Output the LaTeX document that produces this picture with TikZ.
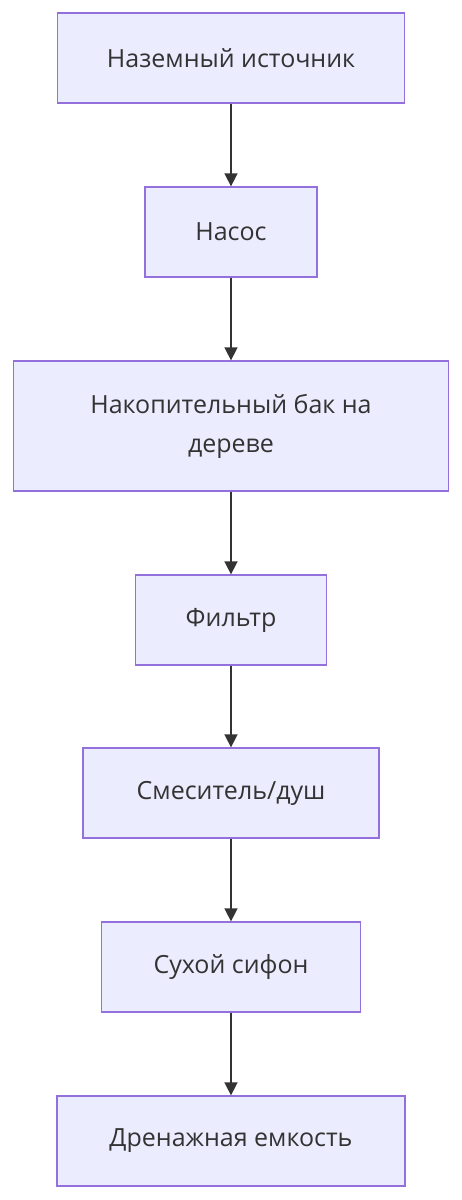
\documentclass[tikz,border=0pt]{standalone}
\usepackage{fontspec}
\setmainfont{Open Sans}
\definecolor{flowfill}{HTML}{ECECFF}
\definecolor{flowline}{HTML}{9370DB}
\definecolor{flowtext}{HTML}{333333}
\usetikzlibrary{arrows.meta,positioning}
\tikzset{
  stage/.style={rectangle,draw=flowline,fill=flowfill,line width=1.3pt,
                text=flowtext,minimum height=90pt,minimum width=#1,
                font=\fontsize{25}{39}\selectfont,align=center},
  stage/.default=200pt,
  flow/.style={-{Triangle[length=13pt,width=13pt]},line width=1.6pt,flowtext},
}
\begin{document}
\begin{tikzpicture}[x=1pt,y=-1pt]
    \useasboundingbox (0,0) rectangle (462,1200);
    \node[stage=347pt] (src) at (231,58) {Наземный источник};
    \node[stage=172pt] (pump) at (231,232) {Насос};
    \node[stage=435pt,minimum height=130pt] (tank) at (231,426) {Накопительный бак на\\дереве};
    \node[stage=191pt] (filt) at (231,620) {Фильтр};
    \node[stage=296pt] (mix) at (231,793) {Смеситель/душ};
    \node[stage=259pt] (trap) at (231,967) {Сухой сифон};
    \node[stage=348pt] (drain) at (231,1141) {Дренажная емкость};
    \draw[flow] (src) -- (pump);
    \draw[flow] (pump) -- (tank);
    \draw[flow] (tank) -- (filt);
    \draw[flow] (filt) -- (mix);
    \draw[flow] (mix) -- (trap);
    \draw[flow] (trap) -- (drain);
  \end{tikzpicture}
\end{document}
